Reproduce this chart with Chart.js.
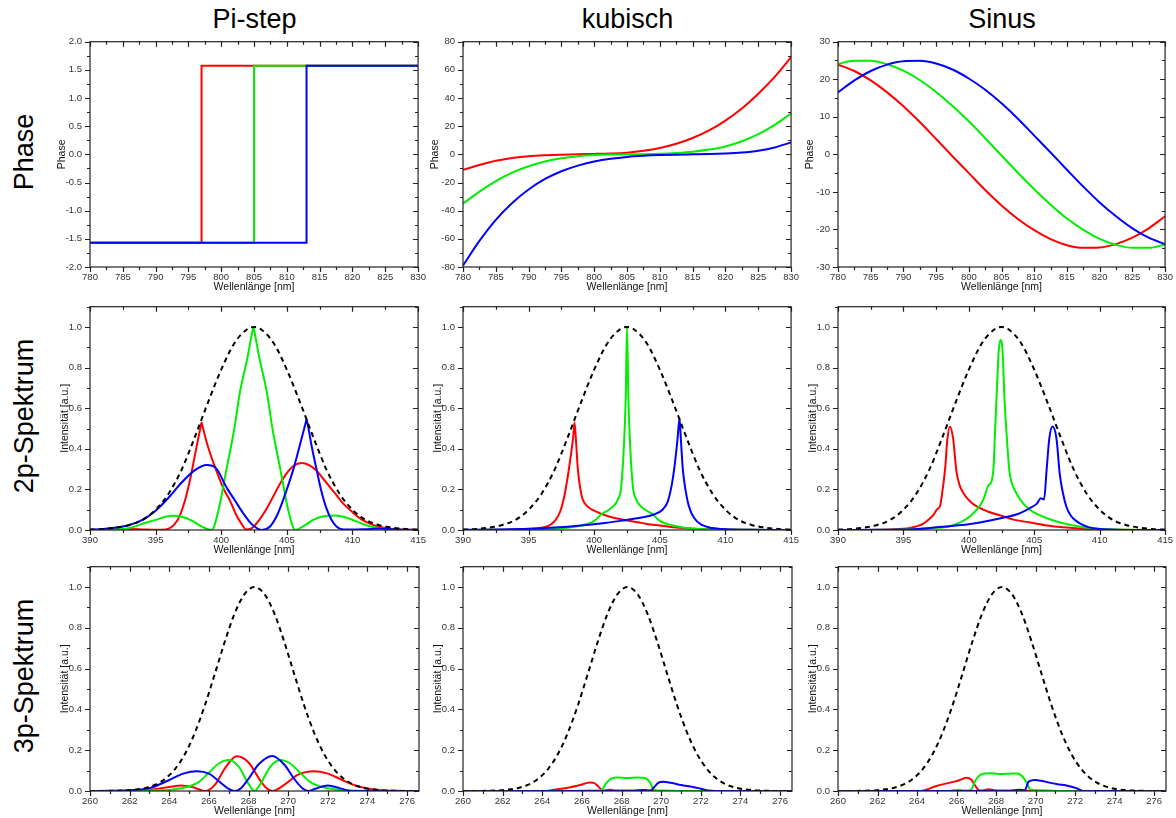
<!DOCTYPE html>
<html>
<head>
<meta charset="utf-8">
<script src="https://cdn.jsdelivr.net/npm/chart.js@4"></script>
<style>
  body { margin: 0; background: #fff; width: 1176px; height: 818px; position: relative; overflow: hidden;
         font-family: "Liberation Sans", Arial, sans-serif; }
  canvas { position: absolute; }
  .col { position: absolute; font-size: 27px; line-height: 27px; white-space: nowrap; color: #000;
         transform: translate(-50%, -50%); }
  .row { position: absolute; font-size: 27px; line-height: 27px; white-space: nowrap; color: #000;
         transform: translate(-50%, -50%) rotate(-90deg); }
</style>
</head>
<body>
<div class="col" style="left:254.5px;top:18.7px">Pi-step</div>
<div class="col" style="left:627.5px;top:18.7px">kubisch</div>
<div class="col" style="left:1002px;top:18.7px">Sinus</div>
<div class="row" style="left:23.7px;top:151.5px">Phase</div>
<div class="row" style="left:23.7px;top:415.5px">2p-Spektrum</div>
<div class="row" style="left:23.7px;top:676px">3p-Spektrum</div>

<canvas id="c11"></canvas><canvas id="c12"></canvas><canvas id="c13"></canvas>
<canvas id="c21"></canvas><canvas id="c22"></canvas><canvas id="c23"></canvas>
<canvas id="c31"></canvas><canvas id="c32"></canvas><canvas id="c33"></canvas>

<script>
// ---- phase curves (nm, rad) ----
const phaseX = [780, 782.5, 785, 787.5, 790, 792.5, 795, 797.5, 800, 802.5, 805,
                807.5, 810, 812.5, 815, 817.5, 820, 822.5, 825, 827.5, 830];

const stepRedX = [780, 797, 797, 830];
const stepGreenX = [780, 805, 805, 830];
const stepBlueX = [780, 813, 813, 830];
const stepY = [-1.571, -1.571, 1.571, 1.571];

const kubRed = [-11, -7.6, -4.6, -2.6, -1.3, -0.6, -0.2, 0.1, 0.3, 0.6, 1.2, 2.5, 4.5, 7.5, 11.6, 17, 24, 32.5, 43, 55, 69];
const kubGreen = [-35, -26.5, -19, -13, -8.5, -5.1, -2.8, -1.3, -0.5, -0.1, 0, 0.1, 0.4, 1, 1.9, 3.4, 5.6, 9.3, 14.3, 21, 29];
const kubBlue = [-79, -61.5, -46.5, -34.5, -25, -17.5, -12, -8, -5.1, -3.1, -1.8, -1, -0.5, -0.2, 0, 0.2, 0.6, 1.3, 2.6, 4.9, 8.5];

const sinRed = [23.9, 22.2, 19.7, 16.5, 12.8, 8.6, 4.1, -0.5, -5.0, -9.5, -13.6, -17.2, -20.2, -22.6, -24.2, -24.9, -24.8, -23.9, -22.2, -19.7, -16.5];
const sinGreen = [24.1, 24.9, 24.9, 24.0, 22.3, 19.8, 16.6, 12.9, 8.8, 4.3, -0.3, -4.9, -9.3, -13.4, -17.1, -20.1, -22.5, -24.1, -24.9, -24.9, -24.0];
const sinBlue = [16.5, 19.7, 22.2, 23.9, 24.8, 24.9, 24.2, 22.6, 20.2, 17.2, 13.6, 9.5, 5.0, 0.5, -4.1, -8.6, -12.8, -16.5, -19.7, -22.2, -23.9];

// ---- 2p spectra ----
const env2X = [390, 391, 392, 393, 394, 395, 396, 397, 398, 399, 400, 401, 402, 402.5, 403, 404, 405, 406, 407, 408, 409, 410, 411, 412, 413, 414, 415];
const env2Y = [0.002, 0.005, 0.012, 0.025, 0.05, 0.1, 0.18, 0.3, 0.46, 0.63, 0.79, 0.92, 0.99, 1.0, 0.99, 0.92, 0.79, 0.63, 0.46, 0.3, 0.18, 0.1, 0.05, 0.025, 0.012, 0.005, 0.002];

const pi2RedX = [390, 392, 393, 394, 395, 395.8, 396.4, 396.9, 397.3, 397.6, 398.0, 398.45, 398.5, 398.56, 398.9, 399.3, 399.7, 400.2, 400.7, 401.1, 401.5, 401.9,
                 402.3, 402.9, 403.5, 404, 404.5, 405, 405.5, 406.1, 406.7, 407.3, 407.8, 408.3, 408.8, 409.3, 410, 410.6, 411.2, 411.8, 412.5, 413.5, 415];
const pi2RedY = [0, 0.002, 0.005, 0.003, 0.001, 0.003, 0.025, 0.08, 0.16, 0.24, 0.37, 0.515, 0.53, 0.515, 0.43, 0.35, 0.28, 0.2, 0.14, 0.08, 0.035, 0.003,
                 0.008, 0.05, 0.11, 0.17, 0.23, 0.28, 0.315, 0.33, 0.32, 0.29, 0.25, 0.21, 0.17, 0.13, 0.088, 0.056, 0.035, 0.02, 0.01, 0.004, 0.001];
const pi2GreenX = [390, 392, 393, 394, 395, 396.2, 397, 397.8, 398.5, 399.26, 399.8, 400.4, 401, 401.4, 402, 402.38, 402.45, 402.52, 402.9, 403.5, 403.9, 404.5, 405.1, 405.64,
                   406.3, 407, 407.8, 408.7, 409.5, 410.2, 411, 411.8, 413, 415];
const pi2GreenY = [0, 0.003, 0.01, 0.03, 0.05, 0.07, 0.065, 0.045, 0.018, 0, 0.1, 0.3, 0.5, 0.67, 0.85, 0.98, 1.0, 0.98, 0.85, 0.67, 0.5, 0.3, 0.1, 0,
                   0.02, 0.05, 0.068, 0.072, 0.062, 0.045, 0.025, 0.012, 0.003, 0];
const pi2BlueX = [390, 391, 392, 393, 394, 395, 396, 397, 398, 398.9, 399.6, 400.4, 401, 401.7, 402.3, 402.8, 403.1, 403.7, 404.2, 404.5, 405, 405.5, 406, 406.44, 406.5, 406.56,
                  406.9, 407.26, 407.6, 408.0, 408.4, 408.8, 409.3, 410, 411, 412, 413, 414, 415];
const pi2BlueY = [0.002, 0.005, 0.012, 0.025, 0.05, 0.095, 0.16, 0.235, 0.295, 0.32, 0.305, 0.21, 0.15, 0.08, 0.03, 0.006, 0, 0.016, 0.065, 0.11, 0.2, 0.3, 0.42, 0.53, 0.545, 0.53,
                  0.41, 0.3, 0.2, 0.11, 0.05, 0.016, 0.003, 0.002, 0.004, 0.007, 0.004, 0.001, 0];

const kub2RedX = [390, 394, 395.5, 396.5, 397, 397.4, 397.7, 397.95, 398.2, 398.4, 398.5, 398.6, 398.75, 398.9, 399.1, 399.5, 400, 400.5, 401.2, 402.4, 403.3, 404, 405, 406, 407, 408.3, 410, 415];
const kub2RedY = [0, 0.002, 0.007, 0.02, 0.045, 0.09, 0.16, 0.25, 0.36, 0.46, 0.53, 0.45, 0.3, 0.22, 0.155, 0.115, 0.095, 0.08, 0.065, 0.048, 0.038, 0.03, 0.022, 0.014, 0.009, 0.005, 0.002, 0];
const kub2GreenX = [390, 395, 397.5, 399, 400, 400.5, 401, 401.5, 401.8, 402.05, 402.25, 402.4, 402.5, 402.6, 402.75, 402.95, 403.2, 403.5, 404, 404.5, 405, 406, 407, 408, 410, 415];
const kub2GreenY = [0, 0.003, 0.008, 0.022, 0.045, 0.075, 0.095, 0.12, 0.15, 0.21, 0.4, 0.65, 1.0, 0.65, 0.4, 0.21, 0.15, 0.12, 0.095, 0.075, 0.045, 0.022, 0.01, 0.005, 0.002, 0];
const kub2BlueX = [390, 393, 395, 397, 399, 400.5, 402, 403.5, 404.5, 405.2, 405.6, 405.9, 406.15, 406.35, 406.5, 406.6, 406.75, 406.95, 407.2, 407.6, 408.2, 409, 410, 412, 415];
const kub2BlueY = [0.001, 0.003, 0.006, 0.012, 0.022, 0.032, 0.045, 0.06, 0.075, 0.1, 0.14, 0.22, 0.33, 0.45, 0.55, 0.45, 0.3, 0.2, 0.12, 0.06, 0.025, 0.01, 0.004, 0.001, 0];

const sin2RedX = [390, 394, 395.5, 396.5, 397, 397.3, 397.55, 397.8, 398.0, 398.2, 398.35, 398.55, 398.8, 399.05, 399.3, 399.6, 400.1, 400.6, 401.5, 402.6, 403.5, 404.7, 406, 407.2, 408.5, 409.5, 411, 415];
const sin2RedY = [0, 0.003, 0.01, 0.03, 0.055, 0.075, 0.1, 0.118, 0.2, 0.31, 0.44, 0.51, 0.45, 0.29, 0.22, 0.18, 0.14, 0.116, 0.09, 0.068, 0.05, 0.037, 0.022, 0.013, 0.007, 0.004, 0.001, 0];
const sin2GreenX = [390, 395, 397, 398.6, 400.1, 401.1, 401.5, 401.74, 401.9, 402.0, 402.15, 402.28, 402.42, 402.58, 402.72, 402.88, 403.1, 403.35, 403.64, 404.1, 404.66, 405.4, 406.2, 407.2, 408.2, 409.2, 410.2, 412, 415];
const sin2GreenY = [0, 0.003, 0.009, 0.02, 0.068, 0.148, 0.22, 0.24, 0.32, 0.48, 0.7, 0.88, 0.936, 0.88, 0.65, 0.48, 0.29, 0.22, 0.18, 0.135, 0.1, 0.073, 0.053, 0.033, 0.02, 0.01, 0.005, 0.001, 0];
const sin2BlueX = [390, 393, 395, 397.5, 400.1, 402.6, 403.8, 404.66, 405.2, 405.5, 405.75, 405.95, 406.15, 406.4, 406.7, 406.95, 407.2, 407.45, 407.8, 408.2, 408.7, 409.2, 410, 410.8, 412, 415];
const sin2BlueY = [0, 0.001, 0.002, 0.013, 0.029, 0.06, 0.08, 0.108, 0.13, 0.156, 0.15, 0.3, 0.45, 0.51, 0.45, 0.275, 0.18, 0.116, 0.07, 0.045, 0.025, 0.013, 0.005, 0.002, 0, 0];

// ---- 3p spectra ----
const env3X = [260, 260.8, 261.3, 261.8, 262.3, 262.8, 263.3, 263.8, 264.3, 264.8, 265.3, 265.8, 266.3, 266.8, 267.3, 267.8, 268.3,
               268.8, 269.3, 269.8, 270.3, 270.8, 271.3, 271.8, 272.3, 272.8, 273.3, 273.8, 274.3, 274.8, 275.3, 275.8, 276.6];
const env3Y = [0.0001, 0.0004, 0.0011, 0.0029, 0.0068, 0.0151, 0.0313, 0.0605, 0.109, 0.183, 0.288, 0.421, 0.575, 0.732, 0.871, 0.966, 1,
               0.966, 0.871, 0.732, 0.575, 0.421, 0.288, 0.183, 0.109, 0.0605, 0.0313, 0.0151, 0.0068, 0.0029, 0.0011, 0.0004, 0.0001];

const pi3RedX = [260, 262, 263, 264, 264.6, 265.2, 265.8, 266.3, 266.8, 267.4, 268, 268.6, 268.9, 269.2, 269.8, 270.5, 271.3, 272, 272.7, 273.3, 274, 274.7, 275.5, 276.6];
const pi3RedY = [0, 0.001, 0.006, 0.02, 0.027, 0.018, 0, 0.03, 0.11, 0.17, 0.14, 0.05, 0.015, 0, 0.03, 0.08, 0.097, 0.085, 0.055, 0.03, 0.012, 0.004, 0.001, 0];
const pi3GreenX = [260, 262, 263, 264, 264.5, 265, 265.5, 266, 266.5, 267, 267.5, 268, 268.3, 268.6, 269.1, 269.6, 270.1, 270.6, 271.1, 271.6, 272.1, 272.6, 273.5, 276.6];
const pi3GreenY = [0, 0.001, 0.003, 0.005, 0.012, 0.022, 0.045, 0.09, 0.135, 0.152, 0.12, 0.035, 0, 0.035, 0.12, 0.152, 0.135, 0.09, 0.045, 0.022, 0.012, 0.005, 0.001, 0];
const pi3BlueX = [260, 261, 262, 263, 264, 264.7, 265.4, 266, 266.6, 267, 267.3, 267.6, 268, 268.5, 269.2, 269.8, 270.3, 270.7, 271.0, 271.4, 272, 272.6, 273, 273.5, 276.6];
const pi3BlueY = [0, 0.001, 0.004, 0.014, 0.054, 0.085, 0.097, 0.085, 0.04, 0.01, 0, 0.012, 0.06, 0.13, 0.172, 0.13, 0.06, 0.015, 0, 0.012, 0.027, 0.014, 0.003, 0, 0];

const kub3RedX = [260, 264.2, 264.7, 265.3, 265.9, 266.4, 266.6, 266.85, 267.05, 267.25, 267.45, 267.7, 268.2, 268.6, 269, 269.5, 270, 276.6];
const kub3RedY = [0, 0, 0.008, 0.016, 0.029, 0.042, 0.04, 0.02, 0.002, 0.004, 0.006, 0.002, 0.003, 0.002, 0.002, 0.001, 0, 0];
const kub3GreenX = [260, 265.5, 266.3, 266.9, 267.05, 267.2, 267.45, 267.8, 268.3, 268.8, 269.2, 269.45, 269.6, 269.75, 270.2, 271, 276.6];
const kub3GreenY = [0, 0, 0.003, 0.002, 0.01, 0.035, 0.06, 0.066, 0.064, 0.066, 0.063, 0.04, 0.01, 0.003, 0.002, 0, 0];
const kub3BlueX = [260, 268.5, 269.1, 269.45, 269.65, 269.85, 270.1, 270.5, 271, 271.6, 272, 272.4, 272.7, 276.6];
const kub3BlueY = [0, 0, 0.005, 0.002, 0.02, 0.04, 0.045, 0.04, 0.029, 0.02, 0.011, 0.002, 0, 0];

const sin3RedX = [260, 264.2, 264.9, 265.4, 265.9, 266.2, 266.5, 266.75, 266.95, 267.15, 267.4, 267.65, 268, 268.5, 269.2, 270, 276.6];
const sin3RedY = [0, 0, 0.022, 0.035, 0.046, 0.055, 0.065, 0.055, 0.025, 0.003, 0.004, 0.008, 0.003, 0.002, 0.001, 0, 0];
const sin3GreenX = [260, 265.5, 266.1, 266.5, 266.75, 266.95, 267.15, 267.4, 267.8, 268.25, 268.7, 269.07, 269.35, 269.55, 269.75, 270.2, 271, 276.6];
const sin3GreenY = [0, 0, 0.006, 0.002, 0.008, 0.05, 0.075, 0.086, 0.087, 0.083, 0.085, 0.086, 0.07, 0.04, 0.006, 0.004, 0, 0];
const sin3BlueX = [260, 268.5, 269.2, 269.45, 269.65, 269.98, 270.3, 270.7, 271.1, 271.56, 272.06, 272.4, 276.6];
const sin3BlueY = [0, 0, 0.006, 0.003, 0.046, 0.054, 0.05, 0.041, 0.033, 0.027, 0.014, 0, 0];

// ---- axis ticks ----
const phaseTicks = [780, 785, 790, 795, 800, 805, 810, 815, 820, 825, 830];
const stepTicksY = [-2, -1.5, -1, -0.5, 0, 0.5, 1, 1.5, 2];
const kubTicksY = [-80, -60, -40, -20, 0, 20, 40, 60, 80];
const sinTicksY = [-30, -20, -10, 0, 10, 20, 30];
const spec2Ticks = [390, 395, 400, 405, 410, 415];
const spec3Ticks = [260, 262, 264, 266, 268, 270, 272, 274, 276];
const intTicks = [0, 0.2, 0.4, 0.6, 0.8, 1.0];

const FONT = '"Liberation Sans", Arial, sans-serif';
const RED = '#ff0000', GREEN = '#00ee00', BLUE = '#0000ff';

function pts(xs, ys) {
  return xs.map((x, i) => ({ x: x, y: ys[i] }));
}

function curve(xs, ys, color) {
  return { data: pts(xs, ys), borderColor: color, borderWidth: 2, pointRadius: 0,
           cubicInterpolationMode: 'monotone', fill: false };
}

function envelope(xs, ys) {
  return { data: pts(xs, ys), borderColor: '#000', borderWidth: 2, borderDash: [5, 4],
           pointRadius: 0, cubicInterpolationMode: 'monotone', fill: false };
}

function step(xs, ys, color) {
  return { data: pts(xs, ys), borderColor: color, borderWidth: 2, pointRadius: 0, tension: 0, fill: false };
}

// box frame with ticks: out on left/bottom, in on top/right
const frame = {
  id: 'frame',
  afterDraw(chart, args, opts) {
    const { ctx, chartArea: a } = chart;
    const sx = chart.scales.x, sy = chart.scales.y;
    const minorVals = (s, step) => {
      const out = [];
      for (let v = s.min; v <= s.max + 1e-9; v += step) out.push(v);
      return out;
    };
    ctx.save();
    ctx.strokeStyle = '#222';
    ctx.lineWidth = 1.2;
    ctx.beginPath();
    const xMark = (v, len) => {
      const p = Math.round(sx.getPixelForValue(v)) + 0.5;
      ctx.moveTo(p, a.bottom); ctx.lineTo(p, a.bottom + len);
      ctx.moveTo(p, a.top); ctx.lineTo(p, a.top + len);
    };
    const yMark = (v, len) => {
      const p = Math.round(sy.getPixelForValue(v)) + 0.5;
      ctx.moveTo(a.left, p); ctx.lineTo(a.left - len, p);
      ctx.moveTo(a.right, p); ctx.lineTo(a.right - len, p);
    };
    minorVals(sx, opts.xMinor).forEach(v => xMark(v, 3));
    minorVals(sy, opts.yMinor).forEach(v => yMark(v, 3));
    sx.ticks.forEach(t => xMark(t.value, 5));
    sy.ticks.forEach(t => yMark(t.value, 5));
    ctx.stroke();
    ctx.strokeRect(a.left, a.top, a.right - a.left, a.bottom - a.top);
    ctx.restore();
  }
};

const cols = [{ left: 90, w: 329 }, { left: 463, w: 329 }, { left: 838, w: 328 }];
const rows = [{ top: 36, h: 231, yw: 34 }, { top: 301, h: 229, yw: 31 }, { top: 561, h: 230, yw: 31 }];

function plot(r, c, datasets, ax) {
  const row = rows[r], col = cols[c];
  const cv = document.getElementById('c' + (r + 1) + (c + 1));
  const xh = 26;
  cv.width = row.yw + col.w + 12;
  cv.height = 8 + row.h + xh;
  cv.style.left = (col.left - row.yw) + 'px';
  cv.style.top = (row.top - 8) + 'px';

  new Chart(cv, {
    type: 'line',
    data: { datasets: datasets },
    options: {
      responsive: false,
      animation: false,
      devicePixelRatio: 1,
      layout: { padding: { left: 0, top: 8, right: 12, bottom: 0 } },
      plugins: {
        legend: { display: false },
        tooltip: { enabled: false },
        frame: { xMinor: ax.xMinor, yMinor: ax.yMinor }
      },
      scales: {
        x: {
          type: 'linear', min: ax.xMin, max: ax.xMax,
          grid: { display: false, drawTicks: false },
          border: { display: false },
          afterBuildTicks: s => { s.ticks = ax.xTicks.map(v => ({ value: v })); },
          afterFit: s => { s.height = xh; },
          ticks: { padding: 5, color: '#333', autoSkip: false, maxRotation: 0,
                   font: { family: FONT, size: 9.5 }, callback: v => String(v) },
          title: { display: true, text: 'Wellenlänge [nm]', color: '#111', padding: 0,
                   font: { family: FONT, size: 10.5 } }
        },
        y: {
          type: 'linear', min: ax.yMin, max: ax.yMax,
          grid: { display: false, drawTicks: false },
          border: { display: false },
          afterBuildTicks: s => { s.ticks = ax.yTicks.map(v => ({ value: v })); },
          afterFit: s => { s.width = row.yw; },
          ticks: { padding: 8, color: '#333', autoSkip: false,
                   font: { family: FONT, size: 9.5 }, callback: v => v.toFixed(ax.yDec) },
          title: { display: true, text: ax.yTitle, color: '#111', padding: 0,
                   font: { family: FONT, size: 10.5 } }
        }
      }
    },
    plugins: [frame]
  });
}

const phaseAx = { xMin: 780, xMax: 830, xTicks: phaseTicks, xMinor: 2.5, yTitle: 'Phase' };
const spec2Ax = { xMin: 390, xMax: 415, xTicks: spec2Ticks, xMinor: 2.5, yMin: 0, yMax: 1.1,
                  yTicks: intTicks, yMinor: 0.1, yDec: 1, yTitle: 'Intensität [a.u.]' };
const spec3Ax = { xMin: 260, xMax: 276.6, xTicks: spec3Ticks, xMinor: 1, yMin: 0, yMax: 1.1,
                  yTicks: intTicks, yMinor: 0.1, yDec: 1, yTitle: 'Intensität [a.u.]' };

// row 1: spectral phase
plot(0, 0, [step(stepBlueX, stepY, BLUE), step(stepGreenX, stepY, GREEN), step(stepRedX, stepY, RED)],
     Object.assign({}, phaseAx, { yMin: -2, yMax: 2, yTicks: stepTicksY, yMinor: 0.25, yDec: 1 }));
plot(0, 1, [curve(phaseX, kubBlue, BLUE), curve(phaseX, kubGreen, GREEN), curve(phaseX, kubRed, RED)],
     Object.assign({}, phaseAx, { yMin: -80, yMax: 80, yTicks: kubTicksY, yMinor: 10, yDec: 0 }));
plot(0, 2, [curve(phaseX, sinBlue, BLUE), curve(phaseX, sinGreen, GREEN), curve(phaseX, sinRed, RED)],
     Object.assign({}, phaseAx, { yMin: -30, yMax: 30, yTicks: sinTicksY, yMinor: 5, yDec: 0 }));

// row 2: SHG spectra
plot(1, 0, [envelope(env2X, env2Y), curve(pi2BlueX, pi2BlueY, BLUE), curve(pi2GreenX, pi2GreenY, GREEN), curve(pi2RedX, pi2RedY, RED)], spec2Ax);
plot(1, 1, [envelope(env2X, env2Y), curve(kub2BlueX, kub2BlueY, BLUE), curve(kub2GreenX, kub2GreenY, GREEN), curve(kub2RedX, kub2RedY, RED)], spec2Ax);
plot(1, 2, [envelope(env2X, env2Y), curve(sin2BlueX, sin2BlueY, BLUE), curve(sin2GreenX, sin2GreenY, GREEN), curve(sin2RedX, sin2RedY, RED)], spec2Ax);

// row 3: THG spectra
plot(2, 0, [envelope(env3X, env3Y), curve(pi3BlueX, pi3BlueY, BLUE), curve(pi3GreenX, pi3GreenY, GREEN), curve(pi3RedX, pi3RedY, RED)], spec3Ax);
plot(2, 1, [envelope(env3X, env3Y), curve(kub3BlueX, kub3BlueY, BLUE), curve(kub3GreenX, kub3GreenY, GREEN), curve(kub3RedX, kub3RedY, RED)], spec3Ax);
plot(2, 2, [envelope(env3X, env3Y), curve(sin3BlueX, sin3BlueY, BLUE), curve(sin3GreenX, sin3GreenY, GREEN), curve(sin3RedX, sin3RedY, RED)], spec3Ax);
</script>
</body>
</html>
